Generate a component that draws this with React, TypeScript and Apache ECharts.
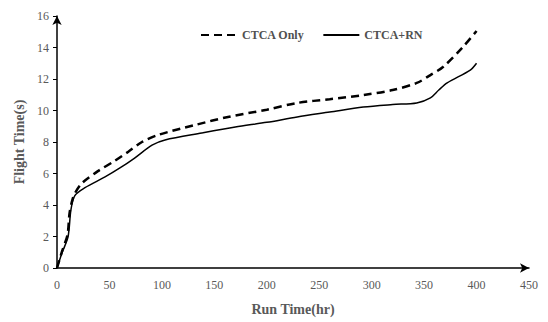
import React, { useEffect, useRef } from "react";
import * as echarts from "echarts";

const seriesNames = ["CTCA Only", "CTCA+RN"];
const ctcaOnly: [number, number][] = [
  [0, 0], [5, 1.1], [10, 2.1], [12, 3.5], [15, 4.4], [18, 4.85], [24, 5.4], [39, 6.15],
  [55, 6.8], [67.7, 7.37], [81, 8.0], [96, 8.44], [131.6, 9.08], [163, 9.59],
  [200, 10.05], [229, 10.48], [260, 10.72], [292, 10.98], [320, 11.3], [343, 11.75],
  [356, 12.25], [368, 12.76], [387, 14.03], [400, 15.05],
];
const ctcaRn: [number, number][] = [
  [0, 0], [5, 1.0], [10.5, 1.97], [13.3, 3.7], [17, 4.6], [26.7, 5.1], [45.8, 5.78],
  [60, 6.35], [74, 6.98], [90.6, 7.8], [103, 8.13], [138, 8.57], [170, 8.95],
  [200, 9.25], [229, 9.59], [260, 9.9], [292, 10.22], [320, 10.38], [343, 10.48],
  [356, 10.8], [364, 11.3], [372, 11.75], [394, 12.57], [400, 13.0],
];
const xTitle = "Run Time(hr)";
const yTitle = "Flight Time(s)";

export default function App() {
  const ref = useRef<HTMLDivElement>(null);
  useEffect(() => {
    const chart = echarts.init(ref.current!, undefined, { renderer: "svg" });
    const font = "'Liberation Serif', 'Times New Roman', serif";
    chart.setOption({
      animation: false,
      grid: { left: 57, right: 19, top: 16, bottom: 54 },
      legend: {
        top: 24,
        left: 195,
        itemWidth: 36,
        itemHeight: 10,
        itemGap: 18,
        itemStyle: { opacity: 0 },
        textStyle: { fontFamily: font, fontWeight: "bold", fontSize: 12, color: "#505050" },
        data: seriesNames,
      },
      xAxis: {
        type: "value",
        min: 0,
        max: 450,
        interval: 50,
        name: xTitle,
        nameLocation: "middle",
        nameGap: 34,
        nameTextStyle: { fontFamily: font, fontWeight: "bold", fontSize: 14, color: "#595959" },
        axisLine: { lineStyle: { color: "#000", width: 1.5 }, symbol: ["none", "arrow"], symbolSize: [7, 9] },
        axisTick: { show: false },
        axisLabel: { fontFamily: font, fontSize: 12, color: "#595959", margin: 11 },
        splitLine: { show: false },
      },
      yAxis: {
        type: "value",
        min: 0,
        max: 16,
        interval: 2,
        name: yTitle,
        nameLocation: "middle",
        nameGap: 29,
        nameTextStyle: { fontFamily: font, fontWeight: "bold", fontSize: 14, color: "#595959" },
        axisLine: { show: true, lineStyle: { color: "#000", width: 1.5 }, symbol: ["none", "arrow"], symbolSize: [7, 9] },
        axisTick: { show: true, length: 4, lineStyle: { color: "#000" } },
        axisLabel: { fontFamily: font, fontSize: 12, color: "#595959", margin: 8 },
        splitLine: { show: false },
      },
      series: [
        {
          name: seriesNames[0],
          type: "line",
          data: ctcaOnly,
          smooth: 0.3,
          symbol: "none",
          lineStyle: { color: "#000", width: 2.5, type: [8, 5] },
          itemStyle: { color: "#000" },
        },
        {
          name: seriesNames[1],
          type: "line",
          data: ctcaRn,
          smooth: 0.3,
          symbol: "none",
          lineStyle: { color: "#000", width: 1.5, type: "solid" },
          itemStyle: { color: "#000" },
        },
      ],
    });
    return () => chart.dispose();
  }, []);
  return <div ref={ref} style={{ width: 548, height: 322, position: "absolute", left: 0, top: 0 }} />;
}
